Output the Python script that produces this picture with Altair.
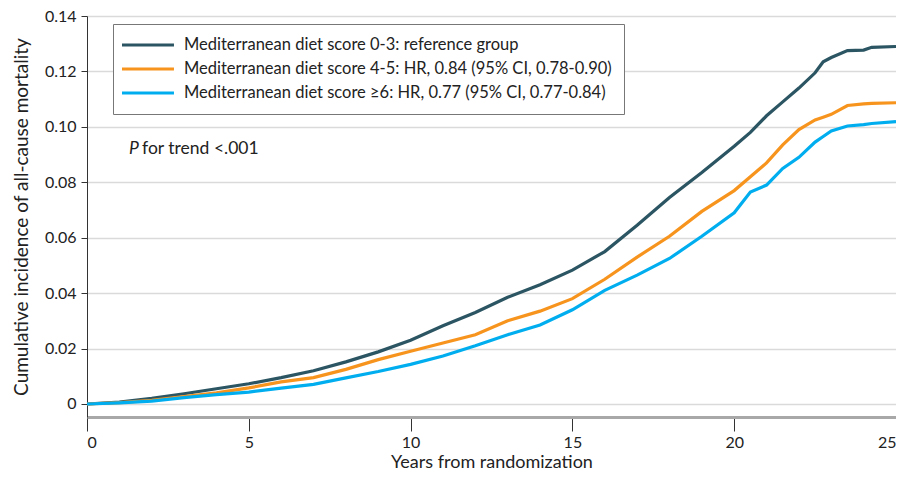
import altair as alt
import pandas as pd

FONT = "Lato"

years = [0, 1, 2, 3, 4, 5, 6, 7, 8, 9, 10, 11, 12, 13, 14, 15, 16, 17, 18, 19, 20,
         20.5, 21, 21.5, 22, 22.5, 22.75, 23, 23.5, 24, 24.25, 25]

score_0_3 = [0, 0.0007, 0.002, 0.0037, 0.0055, 0.0073, 0.0095, 0.012, 0.0152, 0.0188,
             0.023, 0.0282, 0.033, 0.0385, 0.043, 0.0483, 0.055, 0.0645, 0.0745, 0.0835,
             0.093, 0.098, 0.104, 0.109, 0.114, 0.1195, 0.1235, 0.125, 0.1275, 0.1277,
             0.1287, 0.129]

score_4_5 = [0, 0.0005, 0.0013, 0.0027, 0.004, 0.0058, 0.008, 0.0095, 0.0125, 0.016,
             0.019, 0.022, 0.025, 0.030, 0.0335, 0.038, 0.045, 0.053, 0.0605, 0.0695,
             0.077, 0.082, 0.087, 0.0935, 0.099, 0.1025, 0.1035, 0.1045, 0.1077, 0.1083,
             0.1085, 0.1087]

score_6_plus = [0, 0.0004, 0.001, 0.0023, 0.0034, 0.0043, 0.0057, 0.0071, 0.0094, 0.0117,
                0.0143, 0.0173, 0.021, 0.025, 0.0285, 0.034, 0.041, 0.0465, 0.0525, 0.0605,
                0.069, 0.0765, 0.079, 0.085, 0.089, 0.0945, 0.0965, 0.0985, 0.1003, 0.1008,
                0.1012, 0.1019]

series_names = [
    "Mediterranean diet score 0-3: reference group",
    "Mediterranean diet score 4-5: HR, 0.84 (95% CI, 0.78-0.90)",
    "Mediterranean diet score \u22656: HR, 0.77 (95% CI, 0.77-0.84)",
]
series_colors = ["#2b5562", "#f7941e", "#00aeef"]

y_ticks = [0, 0.02, 0.04, 0.06, 0.08, 0.10, 0.12, 0.14]
x_ticks = [0, 5, 10, 15, 20, 25]

rows = []
for name, vals in zip(series_names, [score_0_3, score_4_5, score_6_plus]):
    for yr, v in zip(years, vals):
        rows.append({"year": yr, "value": v, "group": name})
df = pd.DataFrame(rows)

x_enc = alt.X("year:Q",
              scale=alt.Scale(domain=[0, 25], nice=False, zero=False),
              axis=alt.Axis(values=x_ticks, title="Years from randomization",
                            grid=False, domainColor="#a8a8a8", domainWidth=3,
                            tickColor="#333333", tickSize=14, tickWidth=1,
                            labelFlush=4, labelPadding=3, titlePadding=3,
                            titleFontSize=18))
y_enc = alt.Y("value:Q",
              scale=alt.Scale(domain=[-0.0047, 0.14], nice=False, zero=False),
              axis=alt.Axis(values=y_ticks, title="Cumulative incidence of all-cause mortality",
                            labelExpr="datum.value == 0 ? '0' : format(datum.value, '.2f')",
                            grid=True, gridColor="#dadada", gridWidth=1.5,
                            domainColor="#333333", domainWidth=1,
                            tickColor="#333333", tickSize=6, labelPadding=5,
                            titlePadding=13, titleFontSize=19))

lines = alt.Chart(df).mark_line(strokeWidth=3.2).encode(
    x=x_enc,
    y=y_enc,
    color=alt.Color("group:N",
                    scale=alt.Scale(domain=series_names, range=series_colors),
                    legend=alt.Legend(title=None, orient="none", legendX=26, legendY=8,
                                      strokeColor="#777777", fillColor="white",
                                      padding=12, symbolType="M-1.6,0H5.33", symbolSize=225,
                                      symbolStrokeWidth=3, labelFontSize=16.5,
                                      labelFont=FONT, labelColor="#222222",
                                      labelLimit=600, rowPadding=6, labelOffset=41)),
)

ann = pd.DataFrame({"year": [1.3], "value": [0.092]})
p_text = alt.Chart(ann).mark_text(align="left", baseline="middle", fontSize=17.5,
                                  fontStyle="italic", font=FONT, color="#222222",
                                  text="P").encode(x="year:Q", y="value:Q")
rest_text = alt.Chart(ann).mark_text(align="left", baseline="middle", fontSize=17.5,
                                     font=FONT, color="#222222", dx=13,
                                     text="for trend <.001").encode(x="year:Q", y="value:Q")

chart = alt.layer(lines, p_text, rest_text).properties(
    width=809, height=401,
    autosize=alt.AutoSizeParams(type="none"),
    padding={"left": 79, "top": 8, "right": 0, "bottom": 52},
).configure_view(stroke=None).configure_axis(
    labelFont=FONT, titleFont=FONT, labelFontSize=16,
    labelColor="#222222", titleColor="#222222", titleFontWeight="normal",
)

chart.save("out.html", embed_options={"renderer": "svg", "actions": False})
